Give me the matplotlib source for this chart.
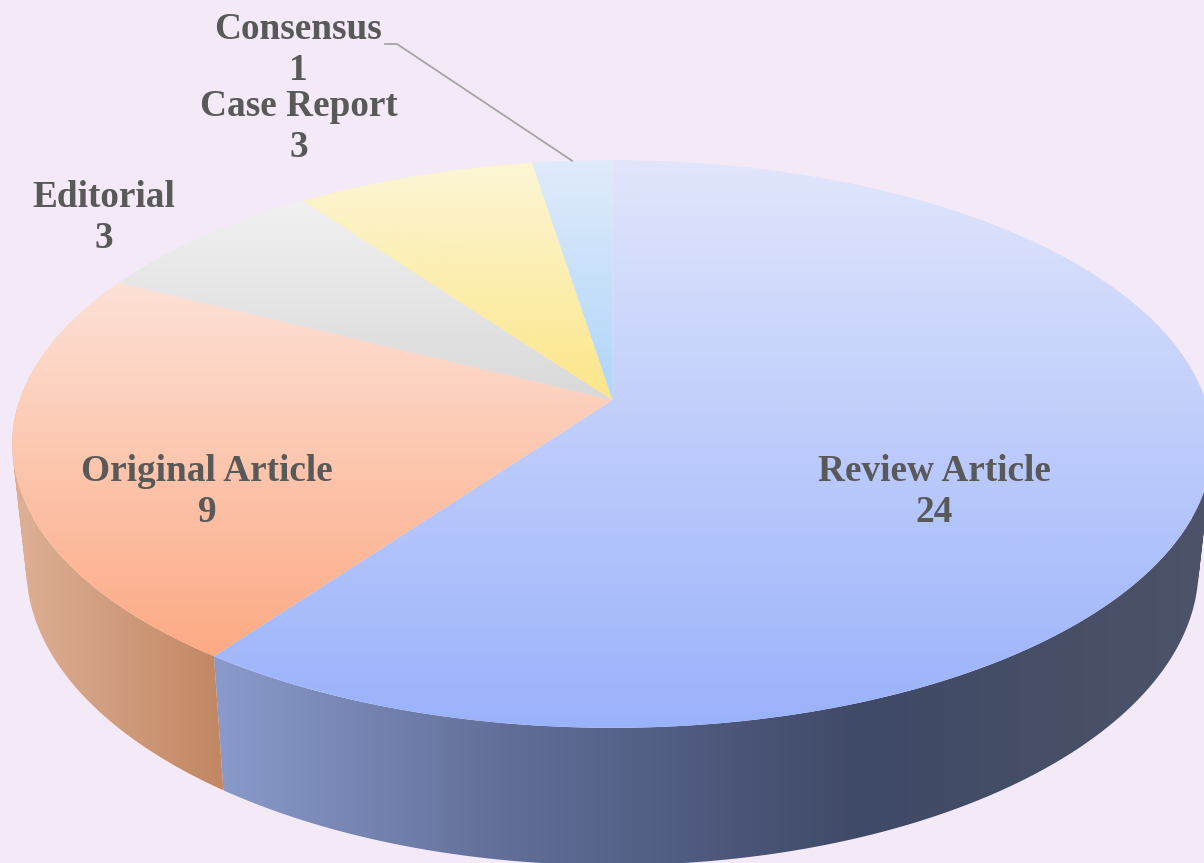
import numpy as np
import matplotlib
matplotlib.use('Agg')
import matplotlib.pyplot as plt
from matplotlib.colors import LinearSegmentedColormap, to_rgb
from matplotlib.patches import Polygon
from matplotlib.path import Path

# clockwise from the top of the pie
labels = ['Review Article', 'Original Article', 'Editorial', 'Case Report', 'Consensus']
values = [24, 9, 3, 3, 1]

top_colors = [
    ('#e1e6fb', '#9ab2fb'),
    ('#fde1d6', '#fcaa84'),
    ('#f1f1f1', '#d9d9d9'),
    ('#fcf6d6', '#fce688'),
    ('#e0ebfa', '#aed6fb'),
]
# wall shading: pixel x -> colour, the other slices have no visible wall
wall_x = [[215, 500, 800, 870, 1204], [25, 222]]
wall_colors = [
    ['#8a9bcb', '#626f9a', '#454f6f', '#3f4a66', '#4d5368'],
    ['#dcae93', '#c28763'],
]
label_xy = [(934, 492), (207, 492), (104, 218), (299, 127), (298, 50)]

BG = '#f4e9f6'
TEXT = '#595959'

# projective mapping of the unit disc, pixel coordinates
CX = 612.5
TOP = dict(a=593, h=277, y0=400)
BOTTOM = dict(a=579, h=290, y0=522)
K = 0.155


def disc(theta, a, h, y0):
    u, v = np.sin(theta), np.cos(theta)
    d = 1 + K * v
    return CX + a * u / d, y0 - h * v / d


def gradient(ax, xy, colors):
    xy = np.asarray(xy)
    cmap = LinearSegmentedColormap.from_list('g', colors)
    ramp = np.linspace(0, 1, 256)[:, None]
    extent = (xy[:, 0].min(), xy[:, 0].max(), xy[:, 1].max(), xy[:, 1].min())
    im = ax.imshow(ramp, cmap=cmap, extent=extent, aspect='auto', interpolation='bilinear')
    patch = Polygon(xy, closed=True, transform=ax.transData, facecolor='none', edgecolor='none')
    ax.add_patch(patch)
    im.set_clip_path(patch)


def wall_path(t):
    # union of quads, all wound the same way so the fill has no holes
    tx, ty = disc(t, **TOP)
    bx, by = disc(t, **BOTTOM)
    verts, codes = [], []
    for j in range(len(t) - 1):
        q = np.array([(tx[j], ty[j]), (tx[j + 1], ty[j + 1]), (bx[j + 1], by[j + 1]), (bx[j], by[j])])
        x, y = q[:, 0], q[:, 1]
        if np.dot(x, np.roll(y, -1)) - np.dot(y, np.roll(x, -1)) < 0:
            q = q[::-1]
        verts += list(q) + [q[0]]
        codes += [Path.MOVETO, Path.LINETO, Path.LINETO, Path.LINETO, Path.CLOSEPOLY]
    return Path(verts, codes)


fig = plt.figure(figsize=(12.04, 8.63), dpi=100, facecolor=BG)
ax = fig.add_axes([0, 0, 1, 1])
ax.set_facecolor(BG)

edges = np.cumsum([0] + values) / sum(values) * 2 * np.pi

for i in range(len(wall_colors)):
    t = np.linspace(edges[i], edges[i + 1], 300)
    t = t[np.cos(t) < 0]
    path = wall_path(t)
    xs = np.arange(np.floor(path.vertices[:, 0].min()), np.ceil(path.vertices[:, 0].max()) + 1)
    rgb = np.array([to_rgb(c) for c in wall_colors[i]])
    strip = np.stack([np.interp(xs, wall_x[i], rgb[:, c]) for c in range(3)], axis=-1)[None, :, :]
    im = ax.imshow(strip, extent=(xs[0], xs[-1], path.vertices[:, 1].max(), path.vertices[:, 1].min()),
                   aspect='auto', interpolation='bilinear')
    im.set_clip_path(path, ax.transData)

for i in range(len(values)):
    t = np.linspace(edges[i], edges[i + 1], 200)
    tx, ty = disc(t, **TOP)
    face = np.r_[[[CX, TOP['y0']]], np.c_[tx, ty]]
    gradient(ax, face, top_colors[i])

for name, val, (x, y) in zip(labels, values, label_xy):
    ax.text(x, y, f'{name}\n{val}', ha='center', va='center', color=TEXT,
            family='Liberation Serif', fontweight='bold', fontsize=26.8, linespacing=1.21)

# leader line for the small slice
lx, ly = disc((edges[-2] + edges[-1]) / 2, **TOP)
ax.plot([385, 397, lx], [44, 44, ly], color='#a6a6a6', lw=1.3)

ax.set_xlim(0, 1204)
ax.set_ylim(863, 0)
ax.axis('off')

fig.savefig('out.png', dpi=100, facecolor=BG)
